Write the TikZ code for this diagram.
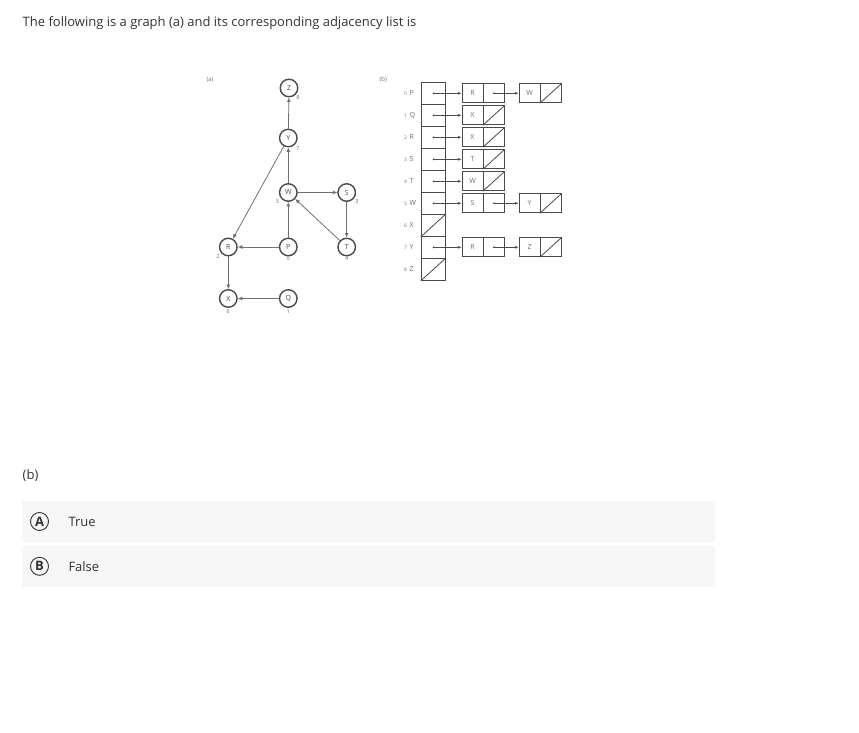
\documentclass[tikz,border=0pt]{standalone}
\usepackage{fontspec}
\setmainfont{Open Sans}
\usetikzlibrary{arrows.meta}

\definecolor{txtgray}{HTML}{333333}
\definecolor{linegray}{HTML}{707070}
\definecolor{ringgray}{HTML}{4A4A4A}
\definecolor{optfill}{HTML}{F7F7F7}

\begin{document}
\begin{tikzpicture}[x=1pt,y=-1pt,
  vert/.style={circle,draw=ringgray,line width=1.4pt,minimum size=17.5pt,inner sep=0pt,
    font=\fontsize{7}{7}\selectfont,text=ringgray},
  num/.style={font=\fontsize{5.5}{5.5}\selectfont,text=linegray,inner sep=0pt},
  edge/.style={draw=linegray,line width=0.8pt,-{Latex[length=4.5pt,width=4pt]}},
  cell/.style={draw=ringgray,line width=1pt,minimum width=21pt,minimum height=19pt,
    inner sep=0pt,font=\fontsize{7}{7}\selectfont,text=linegray},
  slot/.style={cell,minimum width=24.3pt,minimum height=22pt},
  link/.style={draw=ringgray,line width=0.6pt,-{Latex[length=3.5pt,width=3pt]}},
  opt/.style={fill=optfill,draw=none},
  letter/.style={circle,draw=txtgray,line width=0.9pt,minimum size=18pt,inner sep=0pt,
    font=\fontsize{13}{13}\selectfont\bfseries,text=txtgray}]
% Page frame
\useasboundingbox (0,0) rectangle (859,733);
% Question text
\node[anchor=west,text=txtgray,font=\fontsize{13}{15}\selectfont,inner sep=0pt] (question) at (22.5,23.3)
  {The following is a graph (a) and its corresponding adjacency list is};
% Vertices of the graph
\node[num,font=\fontsize{6}{6}\selectfont] (capa) at (210,80) {(a)};
\node[vert] (Z) at (289,88) {Z};
\node[vert] (Y) at (288.3,138) {Y};
\node[vert] (W) at (288.3,192.5) {W};
\node[vert] (S) at (346.7,192.5) {S};
\node[vert] (R) at (228.3,247) {R};
\node[vert] (P) at (288.3,247) {P};
\node[vert] (T) at (346.7,247) {T};
\node[vert] (X) at (228.3,298.5) {X};
\node[vert] (Q) at (288.3,298.5) {Q};
% Vertex numbers
\node[num] (nZ) at (298,97.5) {8};
\node[num] (nY) at (298,148.5) {7};
\node[num] (nW) at (277.5,202) {5};
\node[num] (nS) at (357,202) {3};
\node[num] (nR) at (218,257) {2};
\node[num] (nP) at (288.3,258.5) {0};
\node[num] (nT) at (346.7,258.5) {4};
\node[num] (nX) at (228.3,312) {6};
\node[num] (nQ) at (288.3,312) {1};
% Edges
\draw[edge] (Y) -- (Z);
\draw[edge] (W) -- (Y);
\draw[edge] (W) -- (S);
\draw[edge] (S) -- (T);
\draw[edge] (T) -- (W);
\draw[edge] (P) -- (W);
\draw[edge] (P) -- (R);
\draw[edge] (Y) -- (R);
\draw[edge] (R) -- (X);
\draw[edge] (Q) -- (X);
% The array of head pointers
\node[num,font=\fontsize{6}{6}\selectfont] (capb) at (383.3,80) {(b)};
\foreach \i/\v in {0/P,1/Q,2/R,3/S,4/T,5/W,6/X,7/Y,8/Z} {
  \node[slot] (a\i) at (433.5,93.3+22*\i) {};
  \node[num,font=\fontsize{5}{5}\selectfont] (k\i) at (405.5,93.3+22*\i) {\i};
  \node[num,font=\fontsize{7}{7}\selectfont,anchor=west] (l\i) at (409.5,93.3+22*\i) {\v};
}
\draw[ringgray,line width=0.8pt] (a6.south west) -- (a6.north east);
\draw[ringgray,line width=0.8pt] (a8.south west) -- (a8.north east);
% First nodes of the lists
\foreach \i/\v in {0/R,1/X,2/X,3/T,4/W,5/S,7/R} {
  \node[cell] (d\i) at (472.5,93.3+22*\i) {\v};
  \node[cell] (e\i) at (493.8,93.3+22*\i) {};
  \fill[ringgray] (a\i.center) circle (1pt);
  \draw[link] (a\i.center) -- (d\i);
}
\foreach \i in {1,2,3,4}
  \draw[ringgray,line width=0.8pt] (e\i.south west) -- (e\i.north east);
% Second nodes of the lists
\foreach \i/\v in {0/W,5/Y,7/Z} {
  \node[cell] (f\i) at (529.5,93.3+22*\i) {\v};
  \node[cell] (g\i) at (550.8,93.3+22*\i) {};
  \draw[ringgray,line width=0.8pt] (g\i.south west) -- (g\i.north east);
  \fill[ringgray] (e\i.center) circle (1pt);
  \draw[link] (e\i.center) -- (f\i);
}
% Answer part
\node[anchor=west,text=txtgray,font=\fontsize{13}{15}\selectfont,inner sep=0pt] (partb) at (22.5,476) {(b)};
\fill[opt] (22,501) rectangle (715,541.5);
\fill[opt] (22,546) rectangle (715,586.5);
\node[letter] (optA) at (39.5,521.5) {A};
\node[letter] (optB) at (39.5,566.3) {B};
\node[anchor=west,text=txtgray,font=\fontsize{13}{15}\selectfont,inner sep=0pt] (txtA) at (68.3,521.5) {True};
\node[anchor=west,text=txtgray,font=\fontsize{13}{15}\selectfont,inner sep=0pt] (txtB) at (68.3,566.3) {False};
\end{tikzpicture}
\end{document}
